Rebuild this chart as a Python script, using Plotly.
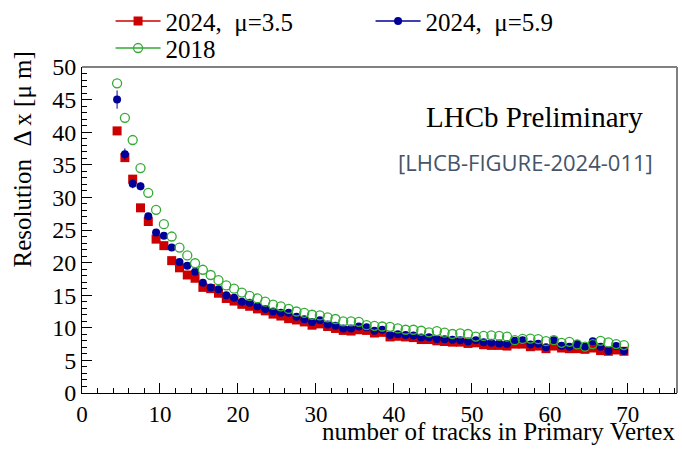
import plotly.graph_objects as go

ntracks = [4.5 + i for i in range(66)]

res_2024_mu35 = [40.2, 36.1, 32.8, 28.4, 26.3, 23.6, 22.6, 20.3, 19.2, 18.1,
                 17.6, 16.2, 16.0, 15.3, 14.5, 14.1, 13.6, 13.3, 12.9, 12.6,
                 12.1, 11.8, 11.4, 11.2, 10.9, 10.4, 10.6, 10.2, 9.9, 9.6,
                 9.5, 9.7, 9.6, 9.2, 9.3, 8.6, 8.7, 8.6, 8.5, 8.2,
                 8.2, 8.0, 7.9, 7.8, 7.8, 7.6, 7.7, 7.4, 7.3, 7.3,
                 7.2, 7.5, 7.5, 7.1, 7.2, 6.8, 7.2, 6.9, 6.8, 6.8,
                 6.7, 6.9, 6.5, 6.4, 6.6, 6.4]

res_2024_mu59 = [45.0, 36.6, 32.1, 31.7, 27.1, 24.6, 24.1, 22.3, 20.1, 19.5,
                 18.6, 16.9, 16.2, 15.9, 15.0, 14.6, 14.0, 13.85, 13.3, 12.9,
                 12.5, 12.3, 12.3, 11.7, 11.3, 10.9, 11.15, 10.5, 10.3, 9.9,
                 9.9, 10.2, 10.1, 9.55, 9.7, 8.9, 9.0, 8.9, 8.8, 8.5,
                 8.55, 8.3, 8.25, 8.15, 8.1, 7.9, 8.1, 7.8, 7.7, 7.6,
                 7.5, 8.0, 8.1, 7.45, 7.55, 7.0, 8.1, 7.25, 7.1, 7.5,
                 7.1, 7.95, 7.1, 6.45, 7.2, 6.45]

err_2024_mu59 = [1.4, 0.9, 0.7, 0.6, 0.5, 0.45, 0.4, 0.35, 0.3, 0.3,
                 0.3, 0.3, 0.25, 0.25, 0.25, 0.25, 0.25, 0.25, 0.2, 0.2,
                 0.2, 0.2, 0.2, 0.2, 0.2, 0.2, 0.2, 0.2, 0.2, 0.2,
                 0.2, 0.2, 0.2, 0.2, 0.2, 0.2, 0.2, 0.2, 0.2, 0.2,
                 0.2, 0.2, 0.2, 0.2, 0.2, 0.2, 0.2, 0.2, 0.2, 0.2,
                 0.2, 0.25, 0.25, 0.25, 0.25, 0.25, 0.25, 0.25, 0.25, 0.3,
                 0.3, 0.3, 0.3, 0.3, 0.3, 0.3]

res_2018 = [47.5, 42.2, 38.8, 34.5, 30.7, 28.1, 25.9, 24.0, 22.3, 21.1,
            19.9, 18.9, 18.1, 17.3, 16.5, 16.0, 15.4, 14.9, 14.5, 14.0,
            13.55, 13.3, 12.9, 12.5, 12.3, 12.0, 11.9, 11.6, 11.35, 11.0,
            11.0, 10.9, 10.4, 10.3, 10.2, 10.15, 9.9, 9.7, 9.7, 9.55,
            9.3, 9.5, 9.25, 9.05, 9.15, 9.05, 8.65, 8.75, 8.85, 8.75,
            8.65, 8.1, 8.3, 8.35, 8.25, 7.95, 8.1, 7.7, 7.85, 7.45,
            7.1, 7.5, 8.0, 7.75, 7.5, 7.35]

x_ticks = [0, 10, 20, 30, 40, 50, 60, 70]
y_ticks = [0, 5, 10, 15, 20, 25, 30, 35, 40, 45, 50]

RED = "#cc0000"
BLUE = "#000099"
GREEN = "#33aa33"
SERIF = "Liberation Serif"

fig = go.Figure()

fig.add_trace(go.Scatter(
    x=ntracks, y=res_2024_mu35, mode="markers", showlegend=False,
    marker=dict(symbol="square", size=9, color=RED, line=dict(width=0)),
))
fig.add_trace(go.Scatter(
    x=ntracks, y=res_2024_mu59, mode="markers", showlegend=False,
    marker=dict(symbol="circle", size=8, color=BLUE, line=dict(width=0)),
    error_y=dict(type="data", array=err_2024_mu59, color=BLUE, thickness=1, width=0),
))
fig.add_trace(go.Scatter(
    x=ntracks, y=res_2018, mode="markers", showlegend=False,
    marker=dict(symbol="circle-open", size=9, color=GREEN, line=dict(width=1.3, color=GREEN)),
))

# legend entries
fig.add_trace(go.Scatter(
    x=[None], y=[None], mode="lines+markers", name="2024,  \u03bc=3.5",
    line=dict(color=RED, width=1.5),
    marker=dict(symbol="square", size=9, color=RED), legend="legend",
))
fig.add_trace(go.Scatter(
    x=[None], y=[None], mode="lines+markers", name="2024,  \u03bc=5.9",
    line=dict(color=BLUE, width=1.5),
    marker=dict(symbol="circle", size=8, color=BLUE), legend="legend",
))
fig.add_trace(go.Scatter(
    x=[None], y=[None], mode="lines+markers", name="2018",
    line=dict(color=GREEN, width=1.5),
    marker=dict(symbol="circle-open", size=9, color=GREEN, line=dict(width=1.3, color=GREEN)),
    legend="legend2",
))

fig.update_layout(
    width=682, height=450,
    margin=dict(l=82, r=5, t=67, b=57, autoexpand=False),
    paper_bgcolor="white", plot_bgcolor="white",
    font=dict(family=SERIF, size=23, color="black"),
    legend=dict(
        orientation="h", x=0.048, y=1.211, xanchor="left", yanchor="top",
        font=dict(family=SERIF, size=25, color="black"),
        entrywidth=200, entrywidthmode="pixels",
        bgcolor="rgba(0,0,0,0)", borderwidth=0, itemwidth=45,
    ),
    legend2=dict(
        orientation="h", x=0.048, y=1.128, xanchor="left", yanchor="top",
        font=dict(family=SERIF, size=25, color="black"),
        bgcolor="rgba(0,0,0,0)", borderwidth=0, itemwidth=45,
    ),
    xaxis=dict(
        range=[0, 76.3], tickvals=x_ticks, ticktext=[str(v) for v in x_ticks],
        ticks="inside", ticklen=10, tickwidth=1, tickcolor="black",
        showline=True, linecolor="black", linewidth=1,
        showgrid=False, zeroline=False,
        tickfont=dict(family=SERIF, size=23),
        minor=dict(dtick=2, ticks="inside", ticklen=5, tickcolor="black", showgrid=False),
    ),
    yaxis=dict(
        range=[0, 50], tickvals=y_ticks, ticktext=[str(v) for v in y_ticks],
        ticks="inside", ticklen=10, tickwidth=1, tickcolor="black",
        showline=True, linecolor="black", linewidth=1,
        showgrid=False, zeroline=False,
        tickfont=dict(family=SERIF, size=24),
        minor=dict(dtick=1, ticks="inside", ticklen=5, tickcolor="black", showgrid=False),
    ),
)

# top and right frame lines
fig.add_shape(type="line", xref="paper", yref="paper", x0=0, x1=1, y0=1, y1=1,
              line=dict(color="#808080", width=2))
fig.add_shape(type="line", xref="paper", yref="paper", x0=1, x1=1, y0=0, y1=1,
              line=dict(color="#808080", width=2))

fig.add_annotation(
    text="number of tracks in Primary Vertex", xref="paper", yref="paper",
    x=1.0, y=(393 - 431) / 326, xanchor="right", yanchor="middle", showarrow=False,
    font=dict(family=SERIF, size=25, color="black"),
)
fig.add_annotation(
    text="Resolution  \u0394 x [\u03bc m]", xref="paper", yref="paper",
    x=-0.1, y=0.715, xanchor="center", yanchor="middle", showarrow=False,
    textangle=-90, font=dict(family=SERIF, size=25, color="black"),
)
fig.add_annotation(
    text="LHCb Preliminary", xref="paper", yref="paper",
    x=(645 - 82) / 595, y=(393 - 117) / 326, xanchor="right", yanchor="middle",
    showarrow=False, font=dict(family=SERIF, size=29, color="black"),
)
fig.add_annotation(
    text="[LHCB-FIGURE-2024-011]", xref="paper", yref="paper",
    x=(655 - 82) / 595, y=(393 - 162) / 326, xanchor="right", yanchor="middle",
    showarrow=False, font=dict(family="Open Sans", size=22, color="#44546a"),
)

fig.write_html("out.html")
